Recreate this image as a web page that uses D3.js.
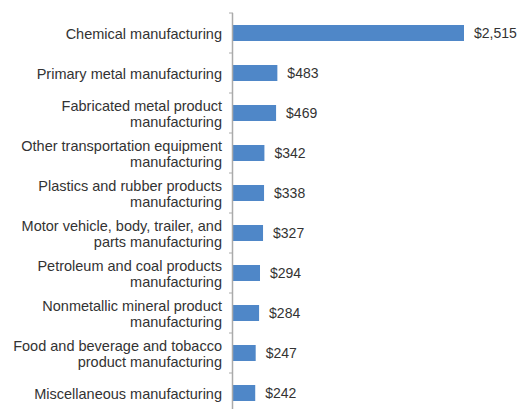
<!DOCTYPE html>
<html>
<head>
<meta charset="utf-8">
<script src="https://cdn.jsdelivr.net/npm/d3@7"></script>
<style>
  body { margin: 0; background: #fff; }
  text { font-family: Arial, "Liberation Sans", sans-serif; }
</style>
</head>
<body>
<svg id="chart"></svg>
<script>
const categories = [
    ["Chemical manufacturing"],
    ["Primary metal manufacturing"],
    ["Fabricated metal product", "manufacturing"],
    ["Other transportation equipment", "manufacturing"],
    ["Plastics and rubber products", "manufacturing"],
    ["Motor vehicle, body, trailer, and", "parts manufacturing"],
    ["Petroleum and coal products", "manufacturing"],
    ["Nonmetallic mineral product", "manufacturing"],
    ["Food and beverage and tobacco", "product manufacturing"],
    ["Miscellaneous manufacturing"]
];
const values = [2515, 483, 469, 342, 338, 327, 294, 284, 247, 242];

const width = 528;
const height = 409;

const svg = d3.select("#chart")
    .attr("width", width)
    .attr("height", height);

const x = d3.scaleLinear().domain([0, 2515]).range([233, 464]);
const y = d3.scaleBand()
    .domain(d3.range(categories.length))
    .range([13, 413])
    .paddingInner(0.6)
    .paddingOuter(0.3);

// Bars
svg.selectAll(".bar")
    .data(values)
    .enter()
    .append("rect")
    .attr("class", "bar")
    .attr("x", x(0))
    .attr("y", (d, i) => y(i))
    .attr("width", d => x(d) - x(0))
    .attr("height", y.bandwidth())
    .attr("fill", "#4f87c8");

// Value labels
svg.selectAll(".value")
    .data(values)
    .enter()
    .append("text")
    .attr("class", "value")
    .attr("x", d => x(d) + 10)
    .attr("y", (d, i) => y(i) + y.bandwidth() / 2)
    .attr("dy", "0.35em")
    .attr("font-size", 14)
    .attr("fill", "#333")
    .text(d => "$" + d3.format(",")(d));

// Category labels
const labels = svg.selectAll(".cat")
    .data(categories)
    .enter()
    .append("text")
    .attr("class", "cat")
    .attr("text-anchor", "end")
    .attr("font-size", 14.5)
    .attr("fill", "#333")
    .attr("y", (d, i) => y(i) + y.bandwidth() / 2 + 1);

labels.selectAll("tspan")
    .data(d => d.map((t, j) => ({ t, j, n: d.length })))
    .enter()
    .append("tspan")
    .attr("x", 222)
    .attr("dy", d => d.j === 0 ? (0.35 - (d.n - 1) * 0.55) + "em" : "1.1em")
    .text(d => d.t);

// Axis line with ticks between categories
svg.append("line")
    .attr("x1", x(0) - 0.5)
    .attr("x2", x(0) - 0.5)
    .attr("y1", 13)
    .attr("y2", 413)
    .attr("stroke", "#aaa")
    .attr("stroke-width", 1.5);

svg.selectAll(".tick")
    .data(d3.range(categories.length + 1))
    .enter()
    .append("line")
    .attr("class", "tick")
    .attr("x1", x(0) - 4)
    .attr("x2", x(0))
    .attr("y1", i => 13 + i * y.step())
    .attr("y2", i => 13 + i * y.step())
    .attr("stroke", "#aaa")
    .attr("stroke-width", 1);
</script>
</body>
</html>
